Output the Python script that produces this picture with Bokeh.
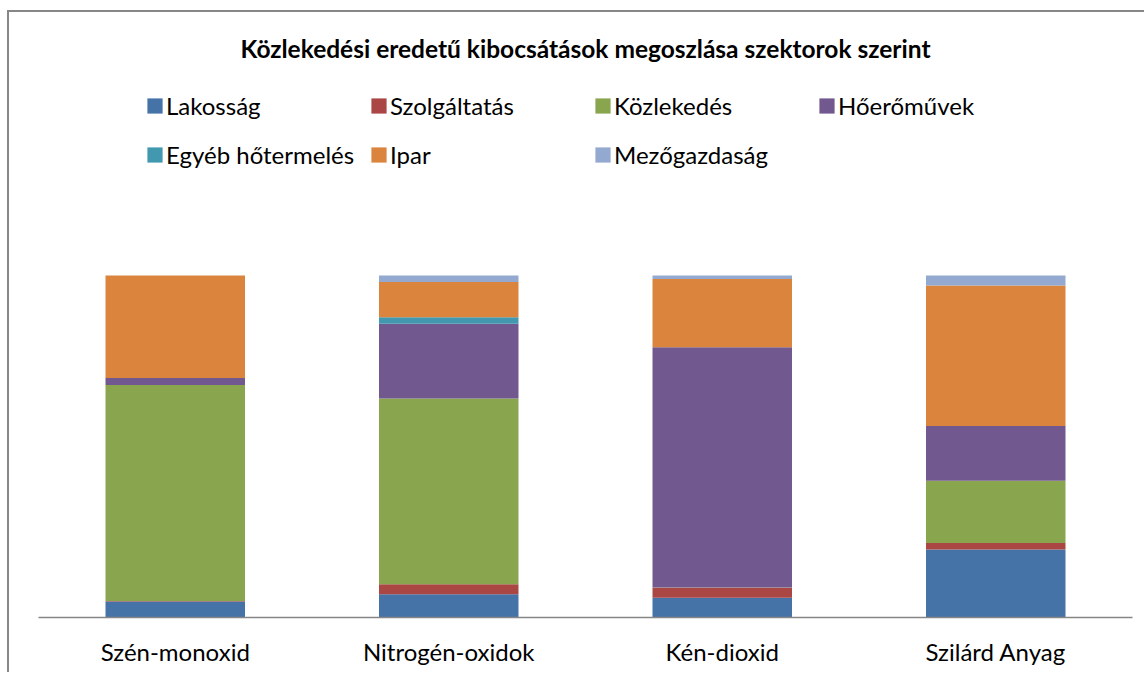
from bokeh.plotting import figure
from bokeh.models import Range1d, FactorRange, Label, Legend, LegendItem
from bokeh.embed import file_html
from bokeh.resources import INLINE

title_text = "Közlekedési eredetű kibocsátások megoszlása szektorok szerint"
categories = ["Szén-monoxid", "Nitrogén-oxidok", "Kén-dioxid", "Szilárd Anyag"]
series = ["Lakosság", "Szolgáltatás", "Közlekedés", "Hőerőművek",
          "Egyéb hőtermelés", "Ipar", "Mezőgazdaság"]

# shares in percent
lakossag      = [4.7, 6.8, 5.8, 19.9]
szolgaltatas  = [0.1, 2.9, 2.9, 1.9]
kozlekedes    = [63.2, 54.3, 0.1, 18.2]
hoeromuvek    = [2.0, 21.9, 70.2, 16.0]
egyeb         = [0.0, 1.9, 0.0, 0.0]
ipar          = [30.0, 10.3, 20.0, 41.1]
mezogazdasag  = [0.0, 1.9, 1.0, 2.9]

colors = ["#4572A7", "#AA4643", "#89A54E", "#71588F", "#4198AF", "#DB843D", "#93A9CF"]

FONT = "Lato"

data = {"cat": categories,
        series[0]: lakossag, series[1]: szolgaltatas, series[2]: kozlekedes,
        series[3]: hoeromuvek, series[4]: egyeb, series[5]: ipar, series[6]: mezogazdasag}

# layout (pixels)
W, H = 1137, 662
ML, MR, MB = 29, 14, 57
frame_h = H - MB
bar_px = 342                      # pixel height of the 100% stack
y_top = 100.0 * frame_h / bar_px  # frame extends above the bars for title/legend

p = figure(width=W, height=H, x_range=FactorRange(*categories), y_range=Range1d(0, y_top),
           output_backend="svg", toolbar_location=None,
           min_border_left=ML, min_border_right=MR, min_border_top=0, min_border_bottom=MB,
           styles={"border-left": "2px solid #878787", "border-top": "2px solid #878787",
                   "margin-top": "10px", "margin-left": "7px"})
p.outline_line_color = None
p.xgrid.visible = False
p.ygrid.visible = False
p.yaxis.visible = False
p.background_fill_color = "white"
p.border_fill_color = "white"

renderers = p.vbar_stack(series, x="cat", width=0.51, color=colors, line_color=None, source=data)

ax = p.xaxis[0]
ax.axis_line_color = "#868686"
ax.axis_line_width = 1.5
ax.major_tick_line_color = None
ax.minor_tick_line_color = None
ax.major_label_text_font = FONT
ax.major_label_text_font_size = "24px"
ax.major_label_text_color = "black"
ax.major_label_standoff = 13

frame_w = W - ML - MR
p.add_layout(Label(x=frame_w / 2, y=569, x_units="screen", y_units="screen", text=title_text,
                   text_font=FONT, text_font_style="bold", text_font_size="24.5px",
                   text_align="center", text_baseline="middle", text_color="black"))

def make_legend(idx, loc):
    items = [LegendItem(label=series[i], renderers=[renderers[i]]) for i in idx]
    lg = Legend(items=items, orientation="horizontal", location=loc,
                label_text_font=FONT, label_text_font_size="24px", label_text_color="black",
                glyph_width=19, glyph_height=19, label_standoff=2, label_width=203,
                spacing=0, padding=0, margin=0, border_line_color=None,
                background_fill_alpha=0)
    p.add_layout(lg, "center")

make_legend([0, 1, 2, 3], (107, 497))
make_legend([4, 5, 6], (107, 448))

open("out.html", "w").write(file_html(p, INLINE))
